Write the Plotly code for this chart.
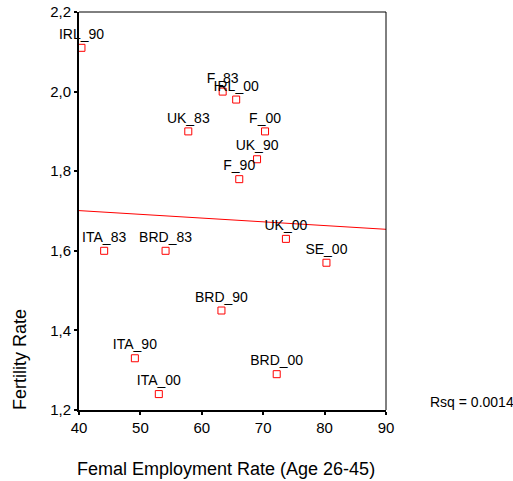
import plotly.graph_objects as go

labels = ["IRL_90", "F_83", "IRL_00", "UK_83", "F_00", "UK_90", "F_90",
          "ITA_83", "BRD_83", "BRD_90", "ITA_90", "ITA_00", "UK_00", "SE_00", "BRD_00"]
employment = [40.4, 63.4, 65.6, 57.8, 70.3, 69.0, 66.1,
              44.1, 54.1, 63.2, 49.1, 53.0, 73.7, 80.3, 72.2]
fertility = [2.11, 2.00, 1.98, 1.90, 1.90, 1.83, 1.78,
             1.60, 1.60, 1.45, 1.33, 1.24, 1.63, 1.57, 1.29]

fit_x = [40, 90]
fit_y = [1.701, 1.654]

x_ticks = [40, 50, 60, 70, 80, 90]
x_ticktext = ["40", "50", "60", "70", "80", "90"]
y_ticks = [1.2, 1.4, 1.6, 1.8, 2.0, 2.2]
y_ticktext = ["1,2", "1,4", "1,6", "1,8", "2,0", "2,2"]

font = "Liberation Sans, Arial, sans-serif"

fig = go.Figure()
fig.add_trace(go.Scatter(
    x=fit_x, y=fit_y, mode="lines",
    line=dict(color="#ff0000", width=1), hoverinfo="skip", showlegend=False))
fig.add_trace(go.Scatter(
    x=employment, y=fertility, mode="markers+text", text=labels,
    textposition="top center",
    textfont=dict(family=font, size=14, color="#000000"),
    marker=dict(symbol="square-open", size=7, color="#ff0000",
                line=dict(width=1, color="#ff0000")),
    showlegend=False, cliponaxis=False))

fig.update_layout(
    width=513, height=481,
    margin=dict(l=79, r=127, t=12, b=71),
    paper_bgcolor="white", plot_bgcolor="white",
    font=dict(family=font, size=15, color="#000000"),
    xaxis=dict(range=[40, 90], tickvals=x_ticks, ticktext=x_ticktext,
               showgrid=False, zeroline=False, showline=True, automargin=False,
               linecolor="black", linewidth=2, mirror=False,
               ticks="outside", ticklen=3, tickwidth=2, tickcolor="black",
               tickfont=dict(family=font, size=15)),
    yaxis=dict(range=[1.2, 2.2], tickvals=y_ticks, ticktext=y_ticktext,
               showgrid=False, zeroline=False, showline=True, automargin=False,
               linecolor="black", linewidth=2, mirror=False,
               ticks="outside", ticklen=3, tickwidth=2, tickcolor="black",
               tickfont=dict(family=font, size=15)),
    shapes=[
        dict(type="line", xref="paper", yref="paper", x0=0, x1=1, y0=1, y1=1,
             line=dict(color="black", width=1)),
        dict(type="line", xref="paper", yref="paper", x0=1, x1=1, y0=0, y1=1,
             line=dict(color="black", width=1)),
    ],
    annotations=[
        dict(text="Femal Employment Rate (Age 26-45)", xref="paper", yref="paper",
             x=(225.5 - 79) / 307, y=-(469 - 410) / 398, xanchor="center", yanchor="middle",
             showarrow=False, font=dict(family=font, size=18)),
        dict(text="Fertility Rate", xref="paper", yref="paper",
             x=-(79 - 20) / 307, y=(410 - 360) / 398, xanchor="center", yanchor="middle",
             textangle=-90, showarrow=False, font=dict(family=font, size=18)),
        dict(text="Rsq = 0.0014", xref="paper", yref="paper",
             x=(428 - 79) / 307, y=(410 - 402) / 398, xanchor="left", yanchor="middle",
             showarrow=False, font=dict(family=font, size=14)),
    ],
)

fig.write_html("out.html")
